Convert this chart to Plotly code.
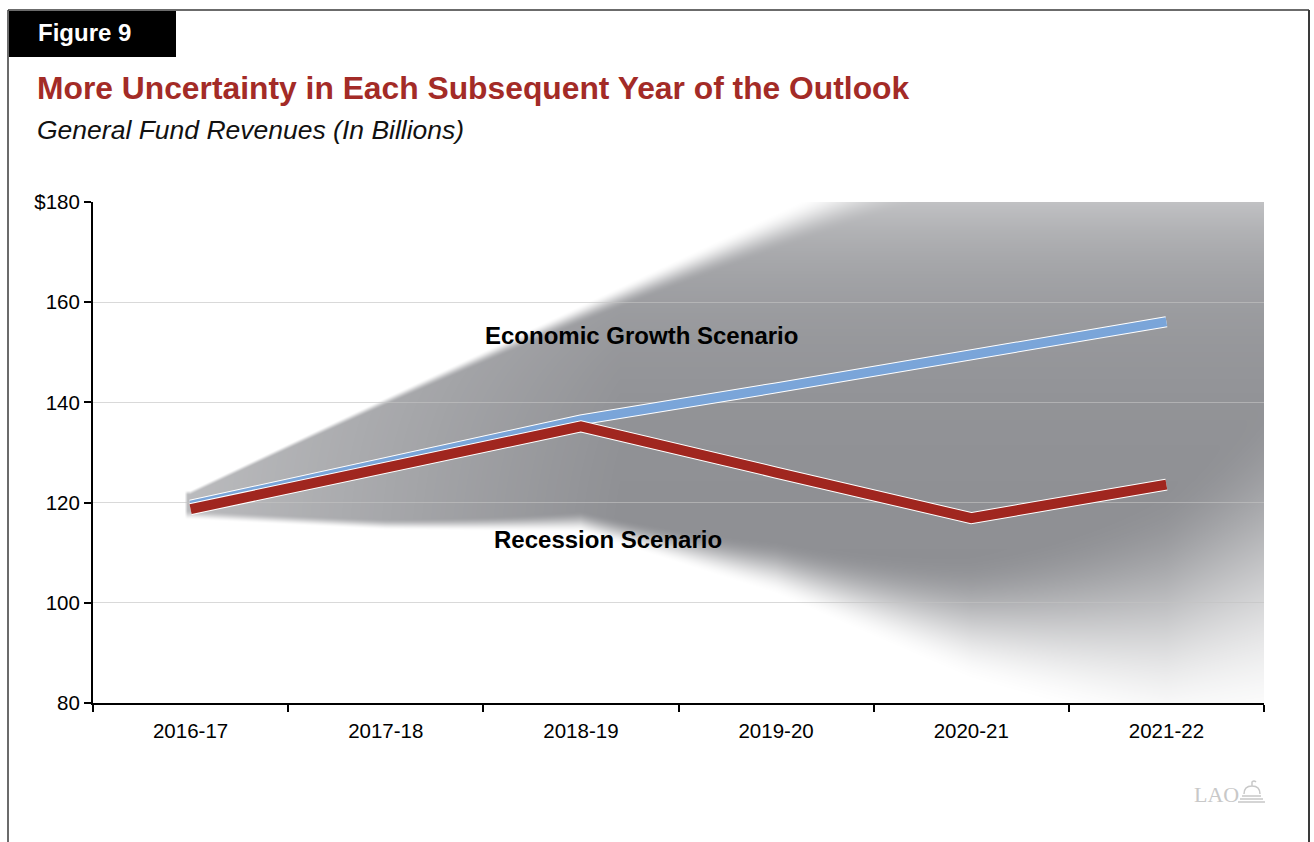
import base64
import struct
import zlib

import numpy as np
import plotly.graph_objects as go

# ---- data -------------------------------------------------------------
years = ["2016-17", "2017-18", "2018-19", "2019-20", "2020-21", "2021-22"]
growth = [119.5, 128.0, 136.5, 142.9, 149.3, 156.1]
recession = [118.7, 127.0, 135.2, 126.0, 116.9, 123.6]
# outer edges of the uncertainty fan (billions)
fan_upper = [122.5, 141.0, 159.5, 178.0, 196.5, 215.0]
fan_lower = [116.5, 114.5, 114.0, 101.5, 84.0, 72.0]
y_ticks = [80, 100, 120, 140, 160, 180]
y_ticktext = ["80", "100", "120", "140", "160", "$180"]

# ---- geometry of the page ----------------------------------------------
W, H = 1314, 842
PL, PT, PW, PH = 93, 202, 1171, 501
Y0, Y1 = 80, 180
X0, X1 = -0.5, len(years) - 0.5
FONT = "Liberation Sans, Arial, Helvetica, sans-serif"
RED = "#a0261f"
BLUE = "#7aa5d9"
TITLE_RED = "#a32b27"
LOGO = "#c8c8c8"


def px(x):
    return (x - PL) / PW


def py(y):
    return (PT + PH - y) / PH


# ---- uncertainty fan rendered as a soft-edged raster -------------------
def fan_rgba():
    cols = (np.arange(PW) + 0.5) / PW * (X1 - X0) + X0
    rows = Y1 - (np.arange(PH) + 0.5) / PH * (Y1 - Y0)
    xi, yv = np.meshgrid(cols, rows)
    idx = np.arange(len(years))
    up = np.interp(xi, idx, fan_upper)
    lo = np.interp(xi, idx, fan_lower)
    ppu = PH / (Y1 - Y0)
    t = np.clip(xi, 0, None)
    w_up = 5 + 3 * t ** 2.2
    w_lo = 10 + 1.2 * t ** 3.3

    def smooth(v):
        v = np.clip(v, 0, 1)
        return v * v * (3 - 2 * v)

    a = smooth((up - yv) * ppu / w_up) * smooth((yv - lo) * ppu / w_lo)
    a *= 0.62 + 0.38 * np.clip(xi / 2.2, 0, 1)
    # lighter wash along the top of the value axis
    a *= 1 - 0.45 * np.exp(-(Y1 - yv) * ppu / 80)
    a *= np.clip((xi + 0.03) * PW / (X1 - X0) / 3, 0, 1)
    img = np.zeros((PH, PW, 4), dtype=np.uint8)
    img[..., 0] = 142
    img[..., 1] = 143
    img[..., 2] = 147
    img[..., 3] = np.round(a * 255).astype(np.uint8)
    return img


def png_uri(rgba):
    h, w, _ = rgba.shape
    raw = b"".join(b"\x00" + rgba[r].tobytes() for r in range(h))

    def chunk(tag, data):
        return (struct.pack(">I", len(data)) + tag + data
                + struct.pack(">I", zlib.crc32(tag + data) & 0xFFFFFFFF))

    ihdr = struct.pack(">IIBBBBB", w, h, 8, 6, 0, 0, 0)
    png = (b"\x89PNG\r\n\x1a\n" + chunk(b"IHDR", ihdr)
           + chunk(b"IDAT", zlib.compress(raw, 9)) + chunk(b"IEND", b""))
    return "data:image/png;base64," + base64.b64encode(png).decode()


xpos = list(range(len(years)))

fig = go.Figure()
# growth scenario: white keyline under the blue line
fig.add_trace(go.Scatter(x=xpos, y=growth, mode="lines",
                         line=dict(color="white", width=11), hoverinfo="skip"))
fig.add_trace(go.Scatter(x=xpos, y=growth, mode="lines",
                         line=dict(color=BLUE, width=9), hoverinfo="skip"))
# recession scenario
fig.add_trace(go.Scatter(x=xpos, y=recession, mode="lines",
                         line=dict(color="white", width=12), hoverinfo="skip"))
fig.add_trace(go.Scatter(x=xpos, y=recession, mode="lines",
                         line=dict(color=RED, width=10), hoverinfo="skip"))

fig.add_layout_image(dict(source=png_uri(fan_rgba()), xref="x", yref="y",
                          x=X0, y=Y1, sizex=X1 - X0, sizey=Y1 - Y0,
                          xanchor="left", yanchor="top", sizing="stretch",
                          layer="below"))

annotations = [
    dict(text="<b>Figure 9</b>", x=px(36), y=py(33), xanchor="left", yanchor="middle",
         font=dict(family=FONT, size=24, color="white")),
    dict(text="<b>More Uncertainty in Each Subsequent Year of the Outlook</b>",
         x=px(35), y=py(88), xanchor="left", yanchor="middle",
         font=dict(family=FONT, size=31.8, color=TITLE_RED)),
    dict(text="<i>General Fund Revenues (In Billions)</i>", x=px(35), y=py(130),
         xanchor="left", yanchor="middle",
         font=dict(family=FONT, size=26.5, color="#111111")),
    dict(text="LAO", x=px(1192), y=py(794), xanchor="left", yanchor="middle",
         font=dict(family="Liberation Serif, Times New Roman, serif", size=22, color=LOGO)),
]
for a in annotations:
    a.update(xref="paper", yref="paper", showarrow=False)

# scenario labels sit in data space
annotations += [
    dict(text="<b>Economic Growth Scenario</b>", x=2.31, y=153.3, xref="x", yref="y",
         showarrow=False, font=dict(family=FONT, size=24, color="black")),
    dict(text="<b>Recession Scenario</b>", x=2.14, y=112.6, xref="x", yref="y",
         showarrow=False, font=dict(family=FONT, size=24, color="black")),
]

frame = "#3a3a3a"
shapes = [
    dict(type="rect", x0=px(9), x1=px(176), y0=py(11), y1=py(57),
         fillcolor="black", line=dict(width=0)),
    dict(type="line", x0=px(8), x1=px(1309), y0=py(10), y1=py(10),
         line=dict(color=frame, width=1.5)),
    dict(type="line", x0=px(8), x1=px(8), y0=py(10), y1=py(842),
         line=dict(color=frame, width=1.5)),
    dict(type="line", x0=px(1309), x1=px(1309), y0=py(10), y1=py(842),
         line=dict(color=frame, width=2)),
]


# small capitol dome beside the LAO mark
def P(x, y):
    return f"{px(x):.5f},{py(y):.5f}"


dome = (f"M{P(1238, 802)} L{P(1265, 802)} M{P(1240, 799)} L{P(1263, 799)} "
        f"M{P(1242, 796)} L{P(1261, 796)} "
        f"M{P(1244, 794)} Q{P(1244, 786)} {P(1252, 786)} Q{P(1260, 786)} {P(1260, 794)} "
        f"M{P(1252, 786)} L{P(1252, 782)} Q{P(1254, 780)} {P(1256, 782)}")
shapes.append(dict(type="path", path=dome, xref="paper", yref="paper",
                   line=dict(color=LOGO, width=1.5)))
for s in shapes:
    s.setdefault("xref", "paper")
    s.setdefault("yref", "paper")

fig.update_layout(
    width=W, height=H, autosize=False,
    margin=dict(l=PL, r=W - PL - PW, t=PT, b=H - PT - PH, pad=0),
    paper_bgcolor="white", plot_bgcolor="rgba(0,0,0,0)",
    showlegend=False,
    annotations=annotations, shapes=shapes,
    xaxis=dict(range=[X0, X1], tickmode="array", tickvals=xpos, ticktext=years,
               ticks="", showgrid=False, zeroline=False,
               showline=True, linecolor="black", linewidth=2,
               tickfont=dict(family=FONT, size=20.5, color="black"),
               ticklabelstandoff=8,
               minor=dict(tickmode="array",
                          tickvals=[i - 0.5 for i in range(len(years) + 1)],
                          ticks="outside", ticklen=7, tickwidth=2,
                          tickcolor="black", showgrid=False)),
    yaxis=dict(range=[Y0, Y1], tickmode="array", tickvals=y_ticks, ticktext=y_ticktext,
               ticks="outside", ticklen=7, tickwidth=2, tickcolor="black",
               showgrid=True, gridcolor="rgba(195,195,195,0.63)", gridwidth=1,
               zeroline=False, showline=True, linecolor="black", linewidth=2,
               tickfont=dict(family=FONT, size=20.5, color="black")),
)

fig.write_html("out.html")
